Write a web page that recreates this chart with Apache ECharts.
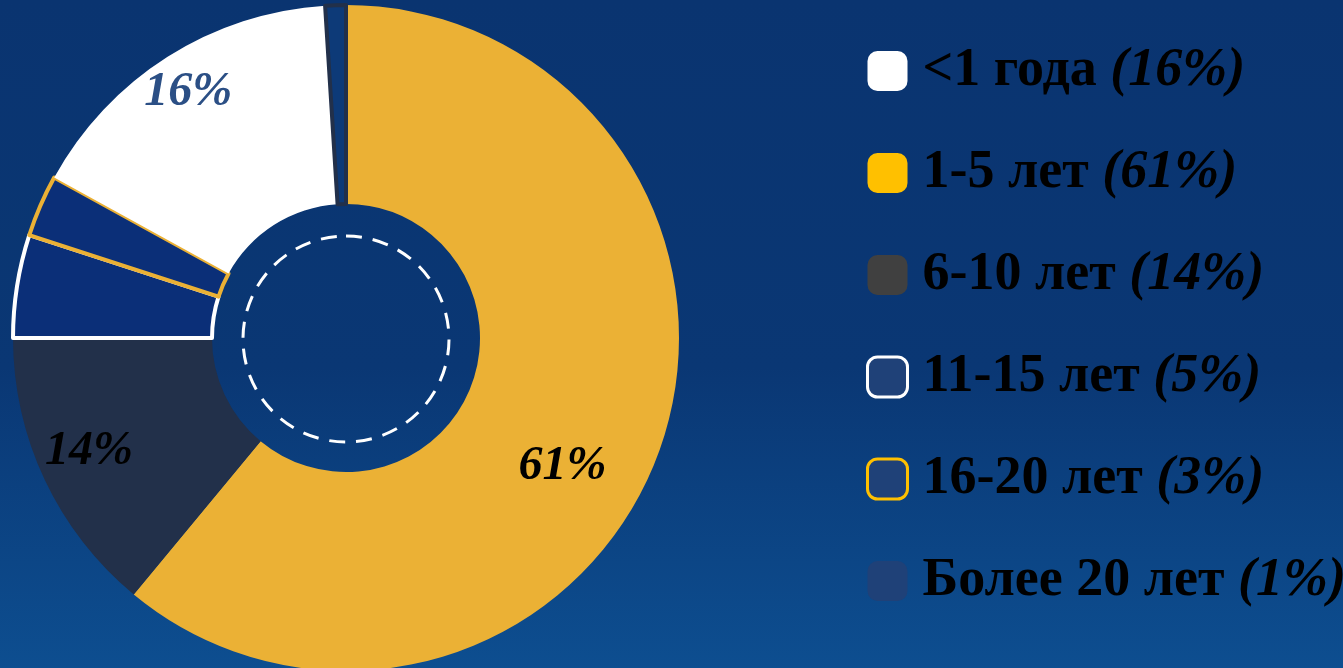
<!DOCTYPE html>
<html><head><meta charset="utf-8">
<script src="https://cdn.jsdelivr.net/npm/echarts@6/dist/echarts.min.js"></script>
<style>html,body{margin:0;padding:0;width:1343px;height:668px;overflow:hidden;background:linear-gradient(180deg,#0a3470 0%,#0a3774 55%,#0d4e90 100%);}#c{width:1343px;height:668px;}</style>
</head><body><div id="c"></div>
<script>
// Data (pie order, clockwise from top)
const categories = ['1-5 лет', '6-10 лет', '11-15 лет', '16-20 лет', '<1 года', 'Более 20 лет'];
const values = [61, 14, 5, 3, 16, 1];
const legendOrder = ['<1 года', '1-5 лет', '6-10 лет', '11-15 лет', '16-20 лет', 'Более 20 лет'];
const showLabel = [true, true, false, false, true, false];

const sliceFill = ['#ebb135', '#22304a', '#0b2f78', '#0b2f78', '#ffffff', '#0d3a78'];
const sliceBorder = [null, null, '#ffffff', '#ebb135', null, '#22304a'];
const labelColor = ['#000000', '#000000', '#000', '#000', '#2b4f85', '#000'];
const labelOffset = [[-6, 48], [-43, 13], [0, 0], [0, 0], [-31, -46], [0, 0]];
const legendFill = {'<1 года':'#ffffff','1-5 лет':'#ffc000','6-10 лет':'#404040','11-15 лет':'#1f4178','16-20 лет':'#1f4178','Более 20 лет':'#1f4178'};
const legendBorder = {'11-15 лет':'#ffffff','16-20 лет':'#ffc000'};

const chart = echarts.init(document.getElementById('c'));
const serif = '"Liberation Serif","Times New Roman",serif';
const data = categories.map((n, i) => ({
  name: n, value: values[i],
  itemStyle: { color: sliceFill[i], borderColor: sliceBorder[i] || sliceFill[i], borderWidth: sliceBorder[i] ? 4 : 0 },
  label: { show: showLabel[i], color: labelColor[i], offset: labelOffset[i] }
}));
chart.setOption({
  animation: false,
  legend: {
    orient: 'vertical', left: 861, top: 39,
    itemWidth: 40, itemHeight: 40, itemGap: 48,
    icon: 'roundRect',
    selectedMode: false,
    data: legendOrder.map(n => ({
      name: n,
      itemStyle: { color: legendFill[n], borderColor: legendBorder[n] || legendFill[n], borderWidth: legendBorder[n] ? 3 : 0 }
    })),
    formatter: n => '{a|' + n + ' }{b|(' + values[categories.indexOf(n)] + '%)}',
    textStyle: {
      padding: [0, 0, 0, 10],
      lineHeight: 40,
      rich: {
        a: { fontFamily: serif, fontWeight: 'bold', fontSize: 54, color: '#000', lineHeight: 40 },
        b: { fontFamily: serif, fontWeight: 'bold', fontStyle: 'italic', fontSize: 54, color: '#000', lineHeight: 40 }
      }
    }
  },
  series: [{
    type: 'pie',
    center: [346, 338],
    radius: [134, 333],
    startAngle: 90,
    clockwise: true,
    avoidLabelOverlap: false,
    label: { position: 'inside', formatter: '{c}%', fontFamily: serif, fontWeight: 'bold', fontStyle: 'italic', fontSize: 48 },
    labelLine: { show: false },
    emphasis: { disabled: true },
    data: data
  }, {
    type: 'pie',
    center: [346, 339],
    radius: [0, 103],
    silent: true,
    startAngle: 90,
    label: { show: false },
    labelLine: { show: false },
    emphasis: { disabled: true },
    data: [{ value: 1, itemStyle: { color: 'rgba(0,0,0,0)', borderColor: '#ffffff', borderWidth: 3, borderType: [16, 11] } }]
  }]
});
</script></body></html>
